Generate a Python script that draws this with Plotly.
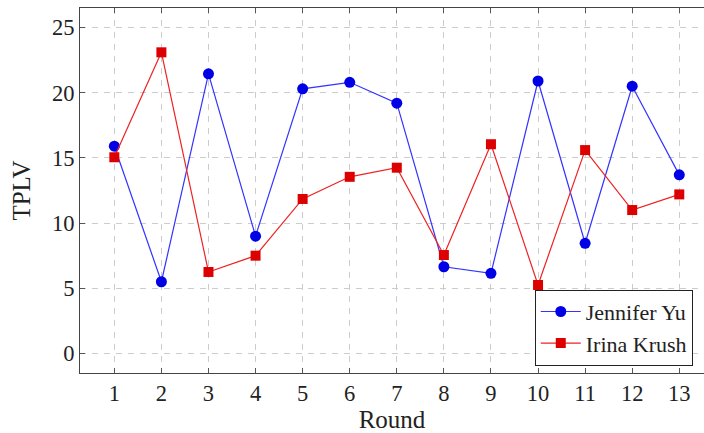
import plotly.graph_objects as go

rounds = list(range(1, 14))
jennifer_yu = [15.9, 5.5, 21.45, 9.0, 20.3, 20.8, 19.2, 6.65, 6.15, 20.9, 8.45, 20.5, 13.7]
irina_krush = [15.05, 23.1, 6.25, 7.5, 11.85, 13.55, 14.25, 7.55, 16.05, 5.25, 15.6, 11.0, 12.2]
y_ticks = [0, 5, 10, 15, 20, 25]

FONT = "'Liberation Serif', 'DejaVu Serif', 'Times New Roman', serif"

fig = go.Figure()
fig.add_trace(go.Scatter(
    x=rounds, y=jennifer_yu, mode="lines+markers", name="Jennifer Yu",
    line=dict(color="#3333ff", width=1.2),
    marker=dict(symbol="circle", size=11, color="#0000e6", line=dict(width=0)),
))
fig.add_trace(go.Scatter(
    x=rounds, y=irina_krush, mode="lines+markers", name="Irina Krush",
    line=dict(color="#ee2222", width=1.2),
    marker=dict(symbol="square", size=10, color="#dd0000", line=dict(width=0)),
))

fig.update_layout(
    width=704, height=433,
    margin=dict(l=80, r=0, t=8, b=60),
    paper_bgcolor="white", plot_bgcolor="white",
    font=dict(family=FONT, size=22.5, color="#222222"),
    showlegend=True,
    legend=dict(
        x=0.982, y=0.02, xanchor="right", yanchor="bottom",
        bordercolor="#222222", borderwidth=1, bgcolor="white",
        font=dict(family=FONT, size=22, color="#222222"),
        tracegroupgap=0, itemwidth=40,
    ),
)
fig.update_xaxes(
    range=[0.271, 13.525], tickmode="array", tickvals=rounds,
    showline=True, linecolor="#444444", linewidth=1.2, mirror="ticks",
    ticks="inside", ticklen=5, tickcolor="#555555",
    showgrid=True, gridcolor="#cccccc", gridwidth=1, griddash="6px,6px",
    zeroline=False,
    title=dict(text="Round", font=dict(family=FONT, size=25), standoff=6),
)
fig.update_yaxes(
    range=[-1.5, 26.5], tickmode="array", tickvals=y_ticks,
    showline=True, linecolor="#444444", linewidth=1.2, mirror=False,
    ticks="inside", ticklen=5, tickcolor="#555555",
    showgrid=True, gridcolor="#cccccc", gridwidth=1, griddash="6px,6px",
    zeroline=False,
    title=dict(text="TPLV", font=dict(family=FONT, size=25), standoff=14),
)

fig.write_html(
    "out.html",
    config={"displayModeBar": False},
    post_script="document.body.style.margin='0';document.body.style.overflow='hidden';",
)
